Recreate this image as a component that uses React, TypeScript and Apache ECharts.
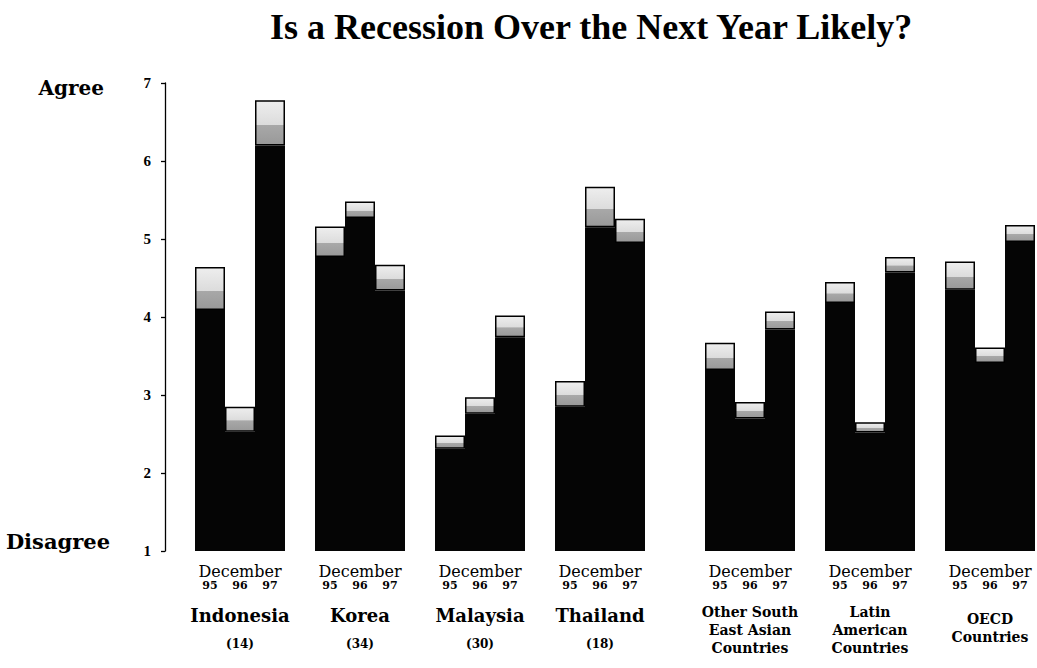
import React, { useEffect, useRef } from "react";
import * as echarts from "echarts";

// ---- data ----
const groups = [
  "Indonesia",
  "Korea",
  "Malaysia",
  "Thailand",
  "Other South\nEast Asian\nCountries",
  "Latin\nAmerican\nCountries",
  "OECD\nCountries",
];
const sampleSizes = ["(14)", "(34)", "(30)", "(18)", "", "", ""];
const years = ["95", "96", "97"];
const monthLabel = "December";
// top of the black part of each bar (Dec 95, 96, 97)
const lowerValues = [
  [4.09, 2.53, 6.2],
  [4.77, 5.27, 4.34],
  [2.31, 2.76, 3.74],
  [2.85, 5.15, 4.95],
  [3.32, 2.7, 3.84],
  [4.18, 2.52, 4.57],
  [4.35, 3.41, 4.96],
];
// top of the grey cap of each bar
const upperValues = [
  [4.64, 2.85, 6.78],
  [5.16, 5.48, 4.67],
  [2.48, 2.97, 4.02],
  [3.18, 5.67, 5.26],
  [3.67, 2.91, 4.07],
  [4.45, 2.65, 4.77],
  [4.71, 3.61, 5.18],
];
// empty category slots placed before each group
const gapsBefore = [1, 1, 1, 1, 2, 1, 1];
const yTicks = { min: 1, max: 7, step: 1 };
const title = "Is a Recession Over the Next Year Likely?";
const agreeLabel = "Agree";
const disagreeLabel = "Disagree";

const SERIF = "'DejaVu Serif', serif";
const TIMES = "'Liberation Serif', 'Times New Roman', serif";

function buildSlots() {
  const cats: string[] = [];
  const base: (number | null)[] = [];
  const cap: (number | null)[] = [];
  groups.forEach((g, gi) => {
    for (let k = 0; k < gapsBefore[gi]; k++) {
      cats.push("");
      base.push(null);
      cap.push(null);
    }
    years.forEach((yr, yi) => {
      let label: string;
      if (yi === 1) {
        const lines = g.split("\n");
        if (lines.length === 1) {
          label =
            `{d|${monthLabel}}\n{y|${yr}}\n{g| }\n{c|${g}}\n{n|${sampleSizes[gi]}}`;
        } else if (lines.length === 3) {
          label =
            `{d|${monthLabel}}\n{y|${yr}}\n{g| }\n` +
            lines.map((l) => `{s|${l}}`).join("\n");
        } else {
          label =
            `{d|${monthLabel}}\n{y|${yr}}\n{h| }\n` +
            lines.map((l) => `{s|${l}}`).join("\n");
        }
      } else {
        label = `{d| }\n{y|${yr}}`;
      }
      cats.push(label);
      base.push(lowerValues[gi][yi]);
      cap.push(+(upperValues[gi][yi] - lowerValues[gi][yi]).toFixed(3));
    });
  });
  return { cats, base, cap };
}

export default function App() {
  const ref = useRef<HTMLDivElement>(null);
  useEffect(() => {
    if (!ref.current) return;
    const chart = echarts.init(ref.current, null, { renderer: "svg" });
    const { cats, base, cap } = buildSlots();
    chart.setOption({
      animation: false,
      backgroundColor: "#ffffff",
      title: {
        text: title,
        left: 265,
        top: 4,
        textStyle: {
          fontFamily: TIMES,
          fontWeight: "bold",
          fontSize: 36,
          color: "#000",
        },
      },
      grid: { left: 165, right: 2, top: 83, bottom: 117 },
      xAxis: {
        type: "category",
        data: cats,
        axisLine: { show: false },
        axisTick: { show: false },
        axisLabel: {
          interval: 0,
          margin: 12,
          color: "#000",
          rich: {
            d: { fontFamily: SERIF, fontSize: 16, lineHeight: 16, color: "#000" },
            y: { fontFamily: SERIF, fontWeight: "bold", fontSize: 11, lineHeight: 12, color: "#000" },
            g: { fontSize: 10, lineHeight: 12 },
            h: { fontSize: 10, lineHeight: 19 },
            c: { fontFamily: SERIF, fontWeight: "bold", fontSize: 18, lineHeight: 24, color: "#000" },
            n: { fontFamily: SERIF, fontWeight: "bold", fontSize: 12, lineHeight: 34, color: "#000" },
            s: { fontFamily: SERIF, fontWeight: "bold", fontSize: 14, lineHeight: 18, color: "#000" },
          },
        },
      },
      yAxis: [
        {
          type: "value",
          min: yTicks.min,
          max: yTicks.max,
          interval: yTicks.step,
          position: "left",
          axisLine: { show: true, lineStyle: { color: "#000", width: 1.3 } },
          axisTick: { show: true, length: 4, lineStyle: { color: "#000", width: 1.3 } },
          splitLine: { show: false },
          axisLabel: {
            margin: 14,
            color: "#000",
            fontFamily: TIMES,
            fontWeight: "bold",
            fontSize: 15,
          },
        },
        {
          type: "value",
          min: yTicks.min,
          max: yTicks.max,
          interval: yTicks.step,
          position: "left",
          axisLine: { show: false },
          axisTick: { show: false },
          splitLine: { show: false },
          axisLabel: {
            margin: 55,
            align: "right",
            formatter: (v: number) =>
              v === yTicks.max
                ? `{a|${agreeLabel}}`
                : v === yTicks.min
                ? `{b|${disagreeLabel}}`
                : "",
            rich: {
              a: { fontFamily: SERIF, fontWeight: "bold", fontSize: 20, color: "#000", padding: [10, 6, 0, 0] },
              b: { fontFamily: SERIF, fontWeight: "bold", fontSize: 21, color: "#000", padding: [0, 0, 20, 0] },
            },
          },
        },
      ],
      series: [
        {
          type: "bar",
          name: "base",
          stack: "s",
          data: base,
          barWidth: "100%",
          clip: true,
          itemStyle: { color: "#050505" },
        },
        {
          type: "bar",
          name: "cap",
          stack: "s",
          data: cap,
          barWidth: "100%",
          clip: true,
          itemStyle: {
            color: new echarts.graphic.LinearGradient(0, 0, 0, 1, [
              { offset: 0, color: "#eeeeee" },
              { offset: 0.55, color: "#dcdcdc" },
              { offset: 0.56, color: "#a8a8a8" },
              { offset: 1, color: "#999999" },
            ]),
            borderColor: "#000",
            borderWidth: 1.5,
          },
        },
      ],
    });
    return () => chart.dispose();
  }, []);
  return (
    <div
      ref={ref}
      style={{ position: "absolute", left: 0, top: 0, width: 1037, height: 668 }}
    />
  );
}
